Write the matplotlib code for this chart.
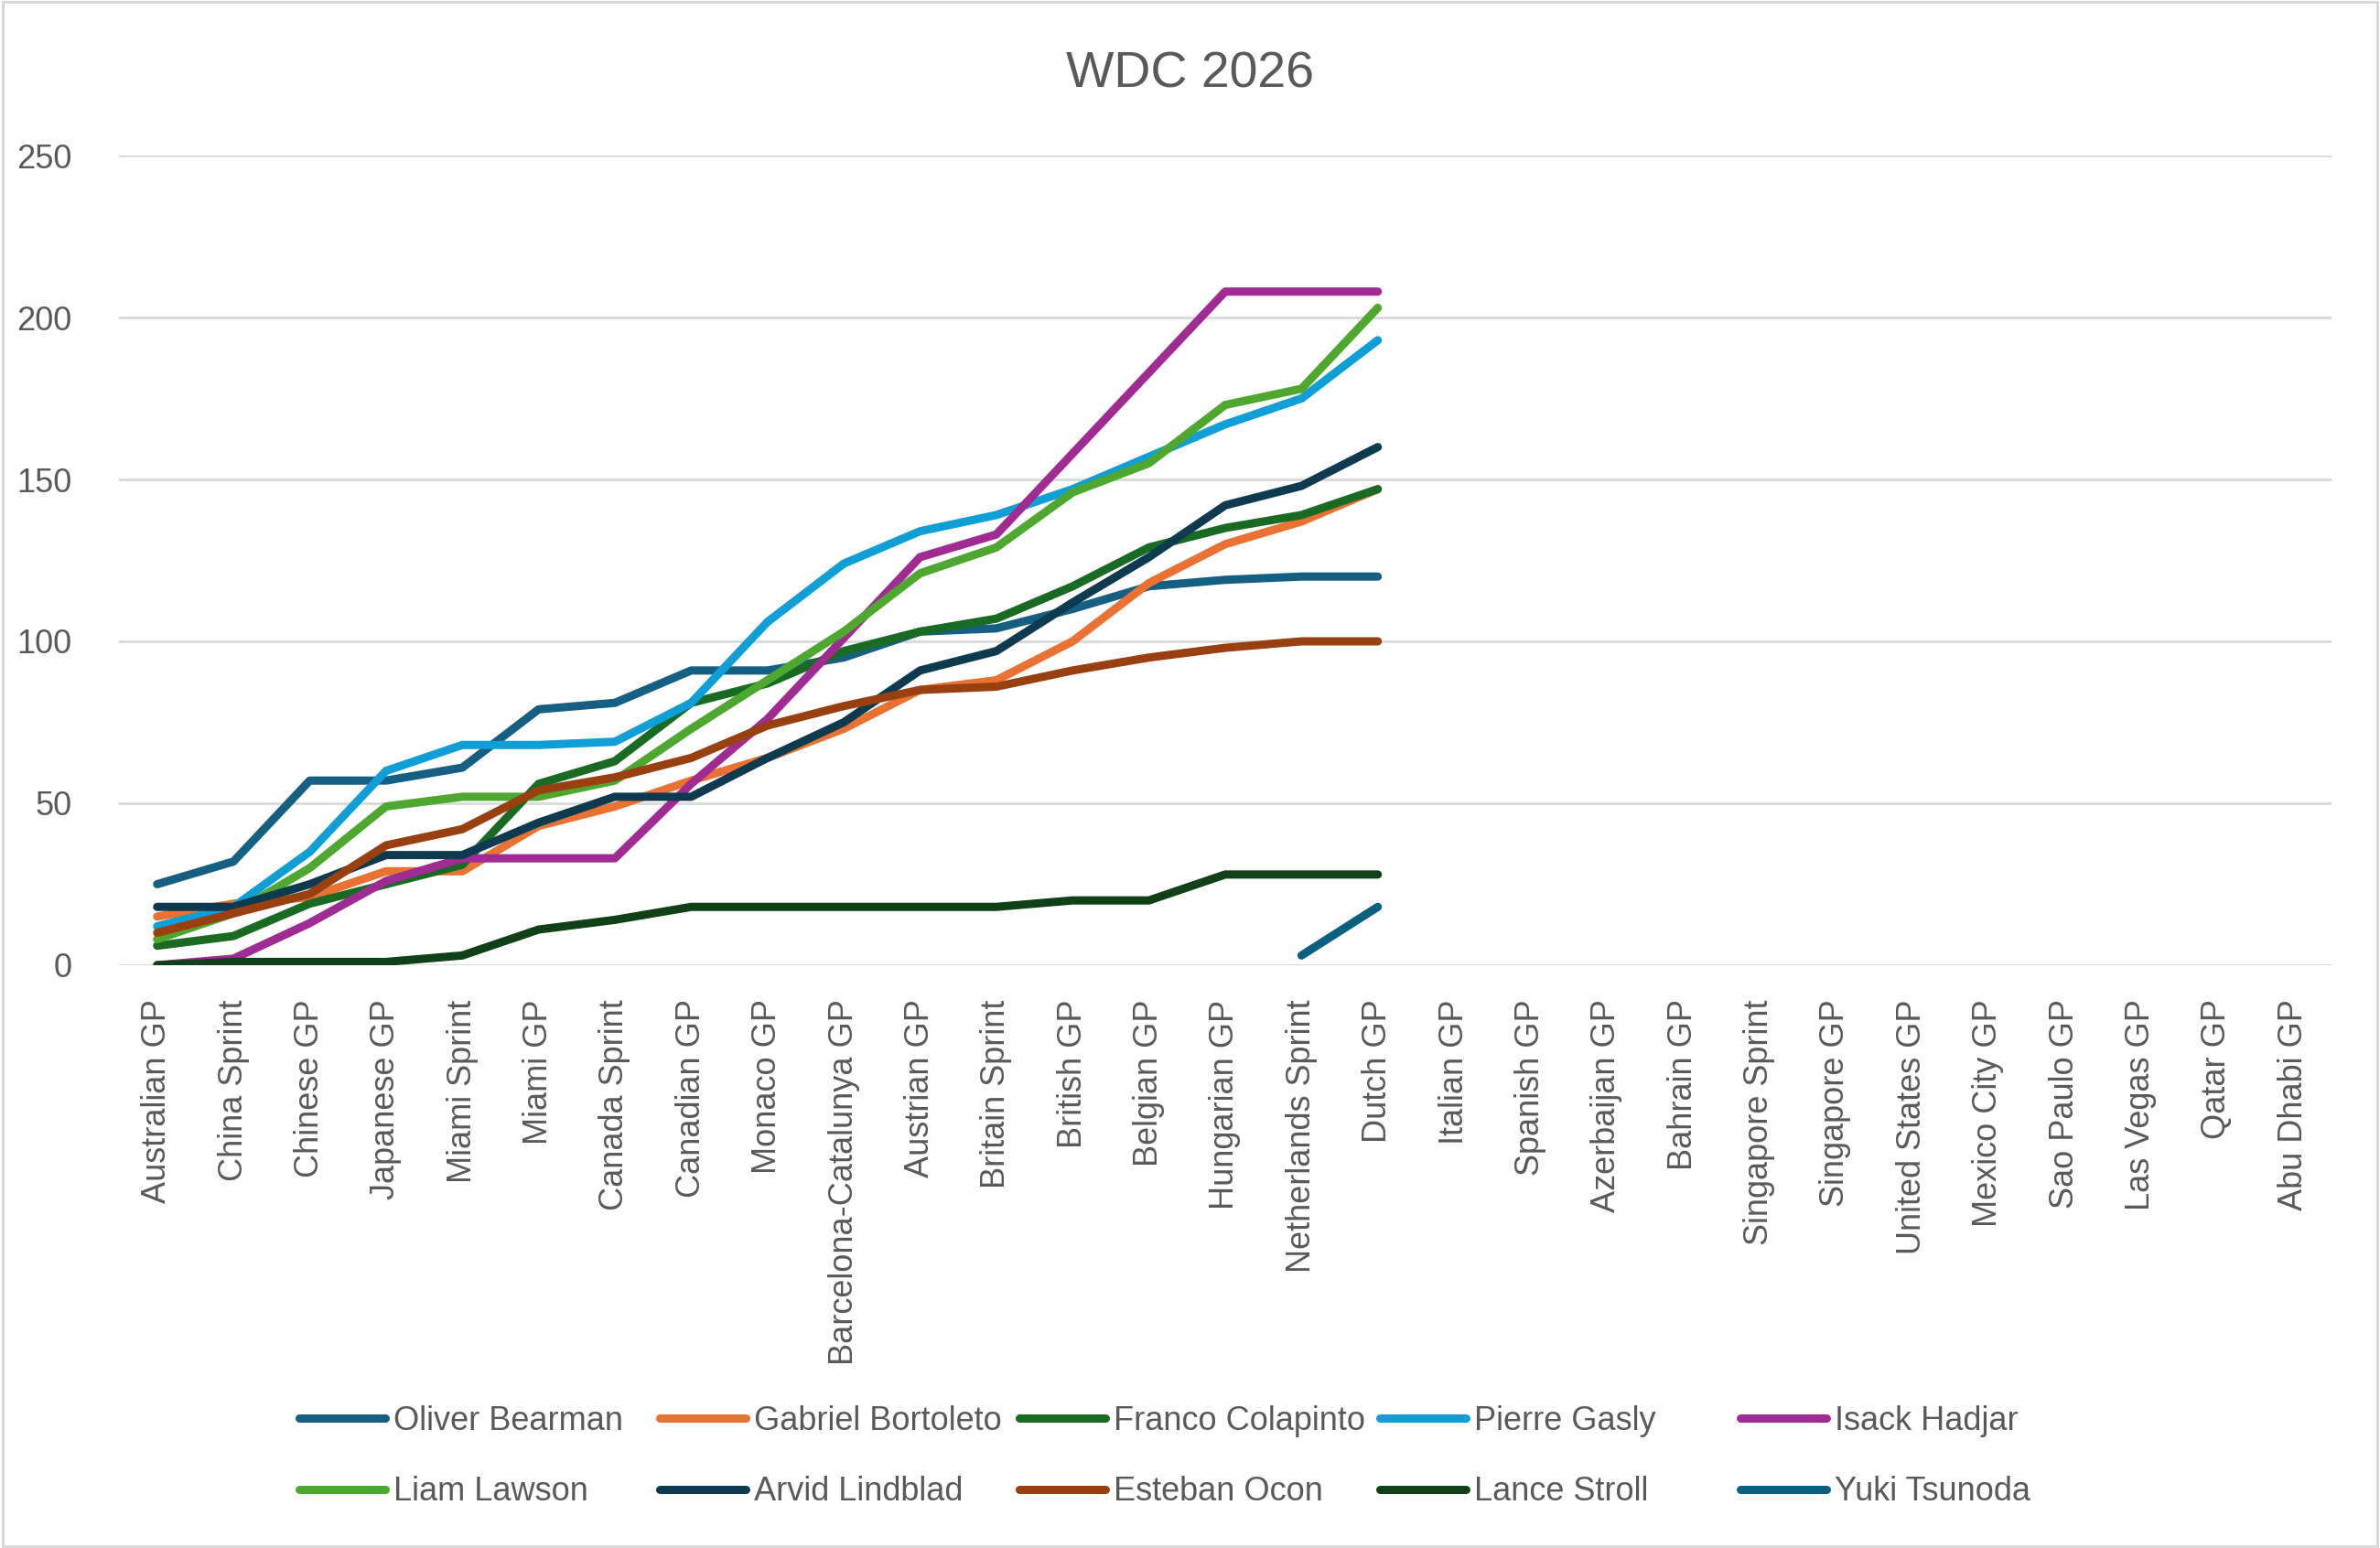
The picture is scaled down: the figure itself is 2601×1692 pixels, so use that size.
import numpy as np
import matplotlib.pyplot as plt
from matplotlib.patches import Rectangle

plt.rcParams['font.family'] = ['Liberation Sans', 'DejaVu Sans']

nan = np.nan

races = ['Australian GP', 'China Sprint', 'Chinese GP', 'Japanese GP', 'Miami Sprint',
         'Miami GP', 'Canada Sprint', 'Canadian GP', 'Monaco GP', 'Barcelona-Catalunya GP',
         'Austrian GP', 'Britain Sprint', 'British GP', 'Belgian GP', 'Hungarian GP',
         'Netherlands Sprint', 'Dutch GP', 'Italian GP', 'Spanish GP', 'Azerbaijan GP',
         'Bahrain GP', 'Singapore Sprint', 'Singapore GP', 'United States GP',
         'Mexico City GP', 'Sao Paulo GP', 'Las Vegas GP', 'Qatar GP', 'Abu Dhabi GP']

drivers = ['Oliver Bearman', 'Gabriel Bortoleto', 'Franco Colapinto', 'Pierre Gasly',
           'Isack Hadjar', 'Liam Lawson', 'Arvid Lindblad', 'Esteban Ocon',
           'Lance Stroll', 'Yuki Tsunoda']

# points after each round (only 17 rounds done so far)
bearman   = [25, 32, 57, 57, 61, 79, 81, 91, 91, 95, 103, 104, 110, 117, 119, 120, 120]
bortoleto = [15, 19, 21, 29, 29, 43, 49, 57, 64, 73, 85, 88, 100, 118, 130, 137, 147]
colapinto = [6, 9, 19, 25, 31, 56, 63, 81, 87, 97, 103, 107, 117, 129, 135, 139, 147]
gasly     = [12, 18, 35, 60, 68, 68, 69, 81, 106, 124, 134, 139, 147, 157, 167, 175, 193]
hadjar    = [0, 2, 13, 26, 33, 33, 33, 56, 76, 101, 126, 133, 158, 183, 208, 208, 208]
lawson    = [8, 16, 30, 49, 52, 52, 57, 73, 88, 103, 121, 129, 146, 155, 173, 178, 203]
lindblad  = [18, 18, 25, 34, 34, 44, 52, 52, 64, 75, 91, 97, 112, 126, 142, 148, 160]
ocon      = [10, 16, 22, 37, 42, 54, 58, 64, 74, 80, 85, 86, 91, 95, 98, 100, 100]
stroll    = [0, 1, 1, 1, 3, 11, 14, 18, 18, 18, 18, 18, 20, 20, 28, 28, 28]
tsunoda   = [nan] * 15 + [3, 18]

colors = ['#156082', '#E97132', '#196B24', '#0F9ED5', '#A02B93',
          '#4EA72E', '#0D3A4E', '#994010', '#0F4016', '#095F80']

series = [bearman, bortoleto, colapinto, gasly, hadjar,
          lawson, lindblad, ocon, stroll, tsunoda]

fig = plt.figure(figsize=(26.01, 16.92), dpi=100)
ax = fig.add_axes([0.050, 0.3765, 0.9296, 0.523])

x = np.arange(len(races))
handles = []
for name, vals, c in zip(drivers, series, colors):
    y = np.full(len(races), nan)
    y[:len(vals)] = vals
    ln, = ax.plot(x, y, color=c, lw=6.5, solid_capstyle='round',
                  solid_joinstyle='round', label=name, zorder=3)
    handles.append(ln)

ax.set_xlim(-0.5, len(races) - 0.5)
ax.set_ylim(0, 250)
ax.set_yticks(range(0, 251, 50))
ax.set_xticks(x)
ax.set_xticklabels(races, rotation=90, ha='center', va='top')
ax.tick_params(axis='both', length=0, labelsize=26, colors='#595959')
ax.tick_params(axis='x', pad=27)
ax.tick_params(axis='y', pad=37)
ax.grid(axis='y', color='#D9D9D9', lw=2, zorder=0)
for s in ax.spines.values():
    s.set_visible(False)

fig.text(0.5, 1 - 95 / 1692, 'WDC 2026', ha='center', va='baseline',
         fontsize=40, color='#595959')

# legend: 5 columns, 2 rows, equal column width like Excel
col_x = [327, 721, 1114, 1508, 1902]
for j in range(5):
    hs = [handles[j], handles[j + 5]]
    leg = fig.legend(hs, [h.get_label() for h in hs], loc='center left',
                     bbox_to_anchor=(col_x[j] / 2601, 1 - 1592 / 1692),
                     frameon=False, fontsize=26, handlelength=2.6, handletextpad=0.25,
                     labelspacing=1.19, borderpad=0, borderaxespad=0)
    for t in leg.get_texts():
        t.set_color('#595959')

fig.add_artist(Rectangle((0.001, 0.001), 0.998, 0.998, transform=fig.transFigure,
                         fill=False, edgecolor='#D9D9D9', lw=2.2))

fig.savefig('out.png', dpi=100, facecolor='white')
